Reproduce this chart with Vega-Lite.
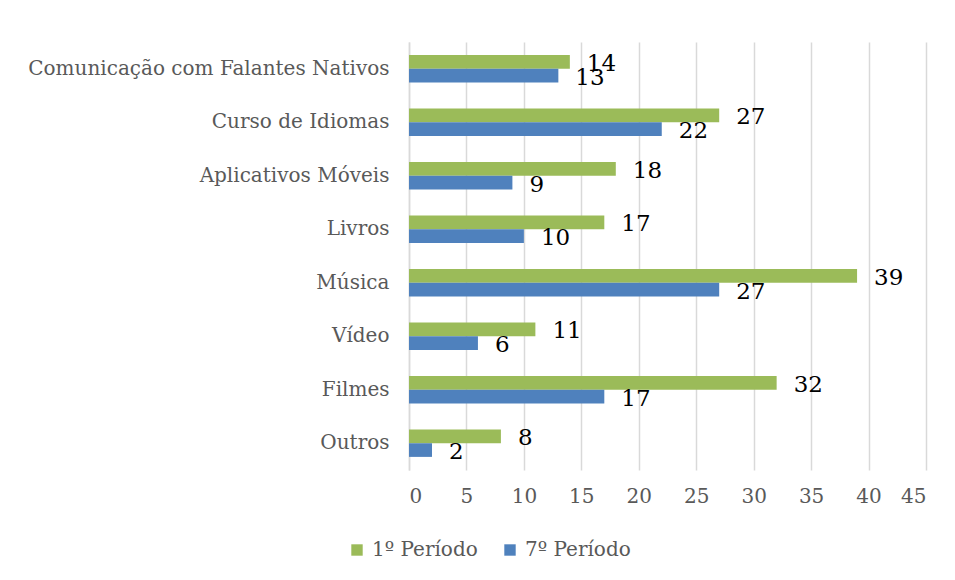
{
  "$schema": "https://vega.github.io/schema/vega-lite/v6.json",
  "width": 517,
  "height": 428,
  "autosize": {"type": "none"},
  "padding": {"left": 409, "top": 42, "right": 29, "bottom": 110},
  "background": "white",
  "config": {
    "font": "DejaVu Serif",
    "view": {"stroke": null}
  },
  "data": {
    "values": [
      {"cat": "Comunicação com Falantes Nativos", "serie": "1º Período", "v": 14},
      {"cat": "Comunicação com Falantes Nativos", "serie": "7º Período", "v": 13},
      {"cat": "Curso de Idiomas", "serie": "1º Período", "v": 27},
      {"cat": "Curso de Idiomas", "serie": "7º Período", "v": 22},
      {"cat": "Aplicativos Móveis", "serie": "1º Período", "v": 18},
      {"cat": "Aplicativos Móveis", "serie": "7º Período", "v": 9},
      {"cat": "Livros", "serie": "1º Período", "v": 17},
      {"cat": "Livros", "serie": "7º Período", "v": 10},
      {"cat": "Música", "serie": "1º Período", "v": 39},
      {"cat": "Música", "serie": "7º Período", "v": 27},
      {"cat": "Vídeo", "serie": "1º Período", "v": 11},
      {"cat": "Vídeo", "serie": "7º Período", "v": 6},
      {"cat": "Filmes", "serie": "1º Período", "v": 32},
      {"cat": "Filmes", "serie": "7º Período", "v": 17},
      {"cat": "Outros", "serie": "1º Período", "v": 8},
      {"cat": "Outros", "serie": "7º Período", "v": 2}
    ]
  },
  "encoding": {
    "y": {
      "field": "cat",
      "type": "nominal",
      "sort": null,
      "title": null,
      "scale": {"paddingInner": 0.49, "paddingOuter": 0.245},
      "axis": {
        "ticks": false,
        "labelPadding": 20,
        "labelFontSize": 20,
        "labelColor": "#595959",
        "domainColor": "#d9d9d9",
        "domainWidth": 1.5,
        "labelLimit": 500
      }
    },
    "yOffset": {"field": "serie", "type": "nominal", "sort": ["1º Período", "7º Período"]},
    "x": {
      "field": "v",
      "type": "quantitative",
      "title": null,
      "scale": {"domain": [0, 45], "nice": false},
      "axis": {
        "values": [0, 5, 10, 15, 20, 25, 30, 35, 40, 45],
        "grid": true,
        "gridColor": "#d9d9d9",
        "gridWidth": 1.5,
        "domain": false,
        "ticks": false,
        "labelPadding": 16,
        "labelFontSize": 20,
        "labelColor": "#595959"
      }
    }
  },
  "layer": [
    {
      "mark": {"type": "bar"},
      "encoding": {
        "color": {
          "field": "serie",
          "type": "nominal",
          "scale": {"domain": ["1º Período", "7º Período"], "range": ["#9BBB59", "#4F81BD"]},
          "legend": {
            "title": null,
            "orient": "none",
            "legendX": -62,
            "legendY": 498,
            "direction": "horizontal",
            "symbolType": "square",
            "symbolSize": 130,
            "labelFontSize": 20,
            "labelColor": "#595959",
            "columnPadding": 22,
            "labelOffset": 5
          }
        }
      }
    },
    {
      "mark": {"type": "text", "align": "left", "baseline": "middle", "dx": 17, "dy": 2, "fontSize": 23, "color": "black"},
      "encoding": {"text": {"field": "v", "type": "quantitative"}}
    }
  ]
}
